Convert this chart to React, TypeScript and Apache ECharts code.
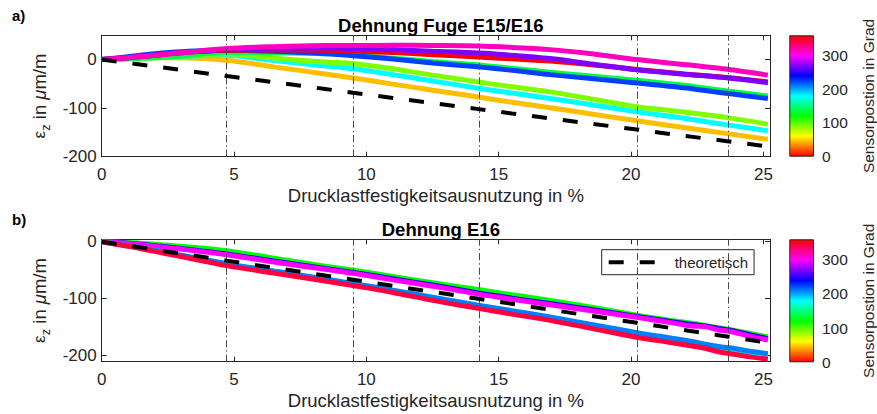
import React, { useEffect, useRef } from "react";
import * as echarts from "echarts";

// ---------- data ----------
const xTicks = [0, 5, 10, 15, 20, 25];
const yTicks = [-200, -100, 0];
const cbTicks = [0, 100, 200, 300];
const vLines = [4.72, 9.49, 14.25, 20.22, 23.68];

// panel a) x positions
const xTop = [0, 1, 2, 3, 4.72, 6.5, 8.44, 9.5, 11, 12.5, 14.23, 15.5, 16.94, 18.5, 20.22, 22, 23.7, 25.17];
const top45 = [0, 2, 4, 4, -1.4, -15, -29.5, -38, -50.5, -63, -77, -88, -99, -112, -126, -140, -153, -164];
const top180 = [0, 2, 4.5, 6.5, 9, -2, -13, -19, -31, -44, -59, -69, -80, -93, -107.6, -121, -135, -146.6];
const top90 = [0, 1.5, 4, 6.5, 12, 3, -5, -8, -19, -32, -46, -56, -66.5, -81, -97, -108, -120, -133];
const top135 = [0, 1.5, 4, 7, 15, 14, 12, 10, 3, -4, -11, -18, -26, -34, -42.5, -53, -65, -75];
const top225 = [0, 6, 12, 16, 19, 17, 12, 8, 1, -7, -15, -22, -31, -39, -48, -58, -70, -80];
const top0 = [0, 4, 9, 14, 19, 20, 19, 17.7, 14.5, 10, 5.3, 1.5, -3, -10.5, -20.5, -29.5, -37.5, -46];
const top270 = [0, 4, 9, 14, 20.5, 23.5, 24, 22.6, 20, 17, 13.6, 9, 2, -9, -21, -30, -38, -47.5];
const top315 = [0, 4, 9, 14, 22.6, 26.5, 29, 29, 29.5, 29, 28, 25, 20.5, 12, 0, -10, -20.5, -32];
const topTheo = [0, -7, -14.2, -21.3, -34, -46.5, -60.5, -68.5, -79, -89.5, -102, -111, -121, -132, -144, -157, -168.5, -179];

// panel b) x positions
const xBot = [0, 1, 2, 3, 4.72, 6.5, 8.44, 9.5, 11, 12.5, 14.23, 15.5, 16.94, 18.5, 20.22, 21.5, 22.3, 22.8, 23.3, 23.7, 24.5, 25.17];
const bot120 = [0, -1.5, -4.5, -8, -15.8, -29, -43, -50, -61, -72, -84, -93, -103, -115, -129, -138, -143, -147, -151, -154, -161, -167];
const bot250 = [0, -2.5, -7, -12, -21.5, -34, -47, -54, -65, -76, -90, -99, -108.5, -119, -131, -140, -145, -148, -152, -155, -163, -170];
const bot300 = [0, -3, -8, -13, -22.8, -35.5, -48.5, -55.5, -67, -78, -92, -101, -110.5, -121, -132.7, -142, -148, -149, -155, -157, -166, -172.5];
const bot165 = [0, -7.5, -15.5, -24, -39, -52, -66.5, -74.5, -86, -99, -113, -123, -134, -147, -161, -171, -177, -182, -187, -189, -195, -199];
const bot210 = [0, -7, -15, -23.5, -38.5, -51.5, -65.5, -73.5, -85, -97.5, -111.5, -121, -132, -145, -159.5, -169, -175, -180, -184, -186, -192, -196.5];
const bot345 = [0, -8, -17, -26, -42, -55, -69, -77, -89, -103, -117, -127, -138, -152, -167.5, -177, -183, -187, -193, -196, -202, -206];
const botTheo = [0, -7, -14, -21, -33.2, -45.7, -59.4, -66.8, -77.4, -88, -100.2, -109, -119.2, -130.2, -142.3, -151.4, -157, -160.5, -164, -166.8, -172.4, -177];

const topLines: [number, number[]][] = [
  [45, top45], [180, top180], [90, top90], [135, top135], [225, top225], [0, top0], [270, top270], [315, top315],
];
const botLines: [number, number[]][] = [
  [120, bot120], [250, bot250], [300, bot300], [165, bot165], [210, bot210], [345, bot345],
];

// ---------- helpers ----------
function hsv(deg: number): string {
  const h = ((deg % 360) + 360) % 360 / 60;
  const i = Math.floor(h);
  const f = h - i;
  let r = 0, g = 0, b = 0;
  switch (i) {
    case 0: r = 1; g = f; b = 0; break;
    case 1: r = 1 - f; g = 1; b = 0; break;
    case 2: r = 0; g = 1; b = f; break;
    case 3: r = 0; g = 1 - f; b = 1; break;
    case 4: r = f; g = 0; b = 1; break;
    default: r = 1; g = 0; b = 1 - f; break;
  }
  const c = (v: number) => Math.round(v * 255).toString(16).padStart(2, "0");
  return "#" + c(r) + c(g) + c(b);
}
const pairs = (xs: number[], ys: number[]) => xs.map((x, i) => [x, ys[i]]);

const FONT = "'Liberation Sans', Arial, Helvetica, sans-serif";
const AX = "#262626";

const L = 101.7, W = 668.3;
const G1T = 35.3, G1H = 121.4;
const G2T = 239.3, G2H = 122.4;
const CBL = 789.3, CBW = 30.7;

const yName = {
  name: "{eps|ε}{sub|z}{t| in }{mu|μ}{t|m/m}",
  nameLocation: "middle" as const,
  nameRotate: 90,
  nameGap: 44,
  nameTextStyle: {
    rich: {
      eps: { fontSize: 17, fontFamily: FONT, color: AX, lineHeight: 24, verticalAlign: "middle" },
      sub: { fontSize: 13, fontFamily: FONT, color: AX, lineHeight: 12, verticalAlign: "bottom" },
      t: { fontSize: 18.5, fontFamily: FONT, color: AX, lineHeight: 24, verticalAlign: "middle" },
      mu: { fontSize: 18.5, fontFamily: FONT, color: AX, fontStyle: "italic", lineHeight: 24, verticalAlign: "middle" },
    },
  },
};

function valueAxisX(gridIndex: number, pos: "bottom" | "top", labels: boolean) {
  return {
    type: "value" as const, gridIndex, position: pos, min: 0, max: 25.25,
    axisLine: { show: true, onZero: false, lineStyle: { color: AX, width: 1 } },
    axisTick: { show: true, inside: true, length: 5, customValues: xTicks, lineStyle: { color: AX } },
    axisLabel: { show: labels, customValues: xTicks, fontSize: 17, color: AX, fontFamily: FONT, margin: 9 },
    splitLine: { show: false },
    ...(labels ? {
      name: "Drucklastfestigkeitsausnutzung in %", nameLocation: "middle" as const, nameGap: 29,
      nameTextStyle: { fontSize: 18.5, color: AX, fontFamily: FONT },
    } : {}),
  };
}
function valueAxisY(gridIndex: number, pos: "left" | "right", min: number, max: number, labels: boolean) {
  return {
    type: "value" as const, gridIndex, position: pos, min, max,
    axisLine: { show: true, onZero: false, lineStyle: { color: AX, width: 1 } },
    axisTick: { show: true, inside: true, length: 5, customValues: yTicks, lineStyle: { color: AX } },
    axisLabel: { show: labels, customValues: yTicks, fontSize: 17, color: AX, fontFamily: FONT, margin: 5 },
    splitLine: { show: false },
    ...(labels ? yName : {}),
  };
}
function cbAxisY(gridIndex: number) {
  return {
    type: "value" as const, gridIndex, position: "right" as const, min: 0, max: 360,
    axisLine: { show: false },
    axisTick: { show: false },
    axisLabel: { show: true, customValues: cbTicks, fontSize: 15.5, color: AX, fontFamily: FONT, margin: 8 },
    splitLine: { show: false },
    name: "Sensorpostion in Grad", nameLocation: "middle" as const, nameRotate: 90, nameGap: 46,
    nameTextStyle: { fontSize: 15.5, color: AX, fontFamily: FONT },
  };
}
const cbGradient = () =>
  new echarts.graphic.LinearGradient(0, 1, 0, 0, [0, 1, 2, 3, 4, 5, 6].map((k) => ({ offset: k / 6, color: hsv(k * 60) })));

const markLineCfg = {
  silent: true,
  symbol: ["none", "none"],
  label: { show: false },
  lineStyle: { color: "#4a4a4a", width: 1, type: [7, 3, 1.5, 3] },
  data: vLines.map((v) => ({ xAxis: v })),
};

function colored(deg: number, xs: number[], ys: number[], xi: number, yi: number) {
  return {
    type: "line" as const, name: "s" + deg + "_" + xi, xAxisIndex: xi, yAxisIndex: yi,
    data: pairs(xs, ys), showSymbol: false, symbol: "none", smooth: 0.3,
    lineStyle: { color: hsv(deg), width: 5 }, itemStyle: { color: hsv(deg) }, silent: true,
  };
}
function theo(xs: number[], ys: number[], xi: number, yi: number) {
  return {
    type: "line" as const, name: "theoretisch", xAxisIndex: xi, yAxisIndex: yi,
    data: pairs(xs, ys), showSymbol: false, symbol: "none",
    lineStyle: { color: "#000", width: 4, type: [15, 16] }, itemStyle: { color: "#000" },
    markLine: markLineCfg, z: 5, silent: true,
  };
}

const option: any = {
  animation: false,
  backgroundColor: "#fff",
  textStyle: { fontFamily: FONT },
  title: [
    { text: "Dehnung Fuge E15/E16", left: L + W / 2, textAlign: "center", top: 11, textStyle: { fontSize: 18.5, fontWeight: "bold", color: "#000", fontFamily: FONT } },
    { text: "Dehnung E16", left: L + W / 2, textAlign: "center", top: 215, textStyle: { fontSize: 18.5, fontWeight: "bold", color: "#000", fontFamily: FONT } },
  ],
  graphic: [
    { type: "text", left: 12, top: 8, style: { text: "a)", font: "bold 15px " + FONT, fill: "#000" } },
    { type: "text", left: 12, top: 212, style: { text: "b)", font: "bold 15px " + FONT, fill: "#000" } },
  ],
  legend: {
    data: ["theoretisch"], left: 601.7, top: 249.7, orient: "horizontal",
    backgroundColor: "#fff", borderColor: AX, borderWidth: 1, borderRadius: 0,
    padding: [5, 6, 5, 5], itemWidth: 48, itemHeight: 12,
    itemStyle: { opacity: 0, borderWidth: 0 },
    lineStyle: { color: "#000", width: 4, type: [15, 16], opacity: 1 },
    textStyle: { fontSize: 15, color: AX, fontFamily: FONT, padding: [0, 0, 0, 13] },
    selectedMode: false,
  },
  grid: [
    { left: L, top: G1T, width: W, height: G1H, containLabel: false },
    { left: CBL, top: G1T, width: CBW, height: G1H, containLabel: false },
    { left: L, top: G2T, width: W, height: G2H, containLabel: false },
    { left: CBL, top: G2T, width: CBW, height: G2H + 0.6, containLabel: false },
  ],
  xAxis: [
    valueAxisX(0, "bottom", true),
    valueAxisX(0, "top", false),
    { type: "category", gridIndex: 1, data: ["c"], show: false, boundaryGap: true },
    valueAxisX(2, "bottom", true),
    valueAxisX(2, "top", false),
    { type: "category", gridIndex: 3, data: ["c"], show: false, boundaryGap: true },
  ],
  yAxis: [
    valueAxisY(0, "left", -200, 50, true),
    valueAxisY(0, "right", -200, 50, false),
    cbAxisY(1),
    valueAxisY(2, "left", -210.5, 4.2, true),
    valueAxisY(2, "right", -210.5, 4.2, false),
    cbAxisY(3),
  ],
  series: [
    ...topLines.map(([d, ys]) => colored(d, xTop, ys, 0, 0)),
    theo(xTop, topTheo, 0, 0),
    {
      type: "bar", xAxisIndex: 2, yAxisIndex: 2, data: [360], barWidth: "100%", silent: true,
      itemStyle: { color: cbGradient(), borderColor: AX, borderWidth: 1 },
    },
    ...botLines.map(([d, ys]) => colored(d, xBot, ys, 3, 3)),
    theo(xBot, botTheo, 3, 3),
    {
      type: "bar", xAxisIndex: 5, yAxisIndex: 5, data: [360], barWidth: "100%", silent: true,
      itemStyle: { color: cbGradient(), borderColor: AX, borderWidth: 1 },
    },
  ],
};

export default function App() {
  const ref = useRef<HTMLDivElement>(null);
  useEffect(() => {
    const chart = echarts.init(ref.current!, null, { renderer: "svg" });
    chart.setOption(option);
    return () => chart.dispose();
  }, []);
  return (
    <div
      ref={ref}
      style={{ position: "fixed", left: 0, top: 0, width: 877, height: 414, background: "#fff" }}
    />
  );
}
